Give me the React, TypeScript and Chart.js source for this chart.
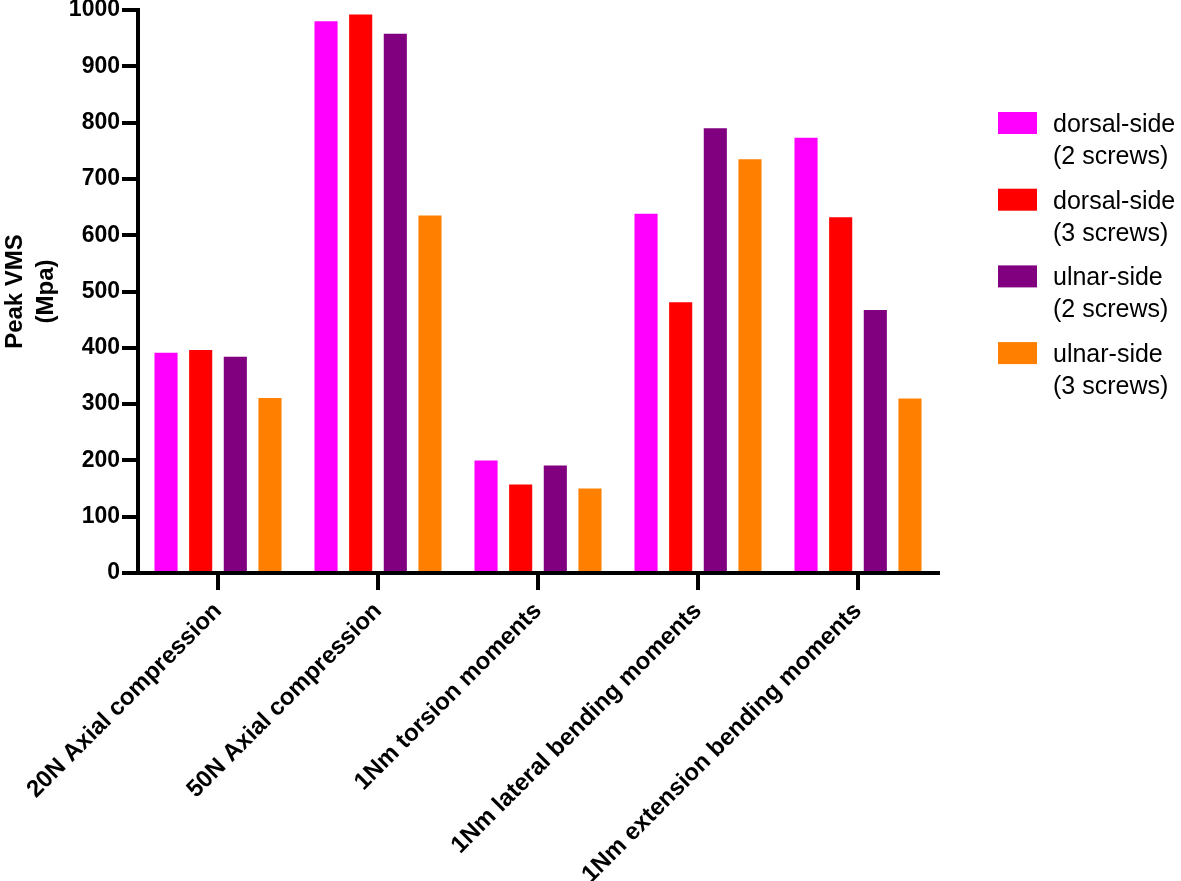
import React, { useEffect, useRef } from 'react';
import { Chart, registerables } from 'chart.js';

Chart.register(...registerables);

const categories = [
  '20N Axial compression',
  '50N Axial compression',
  '1Nm torsion moments',
  '1Nm lateral bending moments',
  '1Nm extension bending moments',
];

const dorsal2 = [391, 980, 200, 638, 773];
const dorsal3 = [396, 992, 157, 481, 632];
const ulnar2 = [384, 958, 191, 790, 467];
const ulnar3 = [311, 635, 150, 735, 310];

const seriesLabels = [
  ['dorsal-side', '(2 screws)'],
  ['dorsal-side', '(3 screws)'],
  ['ulnar-side', '(2 screws)'],
  ['ulnar-side', '(3 screws)'],
];
const seriesColors = ['#FF00FF', '#FF0000', '#800080', '#FF8000'];

const yTitle = ['Peak VMS', '(Mpa)'];
const yMin = 0;
const yMax = 1000;
const yStep = 100;

const FONT = '"Liberation Sans", Arial, Helvetica, sans-serif';

const sideLegend = {
  id: 'sideLegend',
  afterDraw(chart: any) {
    const ctx = chart.ctx;
    const { right, top } = chart.chartArea;
    const x0 = right + 60;
    ctx.save();
    ctx.font = `25px ${FONT}`;
    ctx.textBaseline = 'middle';
    ctx.textAlign = 'left';
    chart.data.datasets.forEach((ds: any, i: number) => {
      const y = top + 102 + i * 76.7;
      ctx.fillStyle = ds.backgroundColor;
      ctx.fillRect(x0, y, 39, 22);
      ctx.fillStyle = '#000';
      const lines = String(ds.label).split('\n');
      lines.forEach((l: string, j: number) => {
        ctx.fillText(l, x0 + 55, y + 13 + j * 32);
      });
    });
    ctx.restore();
  },
};

export default function App() {
  const ref = useRef<HTMLCanvasElement | null>(null);

  useEffect(() => {
    document.body.style.margin = '0';
    const canvas = ref.current;
    if (!canvas) return;
    const series = [dorsal2, dorsal3, ulnar2, ulnar3];
    const chart = new Chart(canvas, {
      type: 'bar',
      data: {
        labels: categories,
        datasets: series.map((d, i) => ({
          label: seriesLabels[i].join('\n'),
          data: d,
          backgroundColor: seriesColors[i],
          borderWidth: 0,
          categoryPercentage: 0.866,
          barPercentage: 0.667,
        })),
      },
      options: {
        responsive: false,
        animation: false,
        devicePixelRatio: 1,
        layout: { padding: { left: 0, right: 243, top: 10, bottom: 0 } },
        plugins: {
          legend: { display: false },
          tooltip: { enabled: false },
        },
        scales: {
          x: {
            offset: true,
            grid: {
              offset: false,
              drawOnChartArea: false,
              drawTicks: true,
              tickLength: 17,
              lineWidth: 4,
              color: '#000',
            },
            border: { display: true, color: '#000', width: 4 },
            ticks: {
              color: '#000',
              font: { family: FONT, size: 24, weight: 'bold' },
              maxRotation: 45,
              minRotation: 45,
              autoSkip: false,
              padding: 7,
            },
            afterFit(scale: any) {
              scale.height = 308;
              scale.paddingLeft = 0;
              scale.paddingRight = 0;
            },
          },
          y: {
            min: yMin,
            max: yMax,
            grid: {
              drawOnChartArea: false,
              drawTicks: true,
              tickLength: 16,
              lineWidth: 4,
              color: '#000',
            },
            border: { display: true, color: '#000', width: 4 },
            ticks: {
              stepSize: yStep,
              color: '#000',
              font: { family: FONT, size: 23, weight: 'bold' },
              padding: 2,
              callback: (v: any) => String(v),
            },
            title: {
              display: true,
              text: yTitle,
              color: '#000',
              font: { family: FONT, size: 24, weight: 'bold', lineHeight: 1.3 },
              padding: 0,
            },
            afterFit(scale: any) {
              scale.width = 138;
              scale.paddingTop = 0;
              scale.paddingBottom = 0;
            },
          },
        },
      },
      plugins: [sideLegend],
    });
    return () => chart.destroy();
  }, []);

  return (
    <div style={{ position: 'absolute', left: 0, top: 0, width: 1181, height: 881, background: '#fff' }}>
      <canvas ref={ref} width={1181} height={881} />
    </div>
  );
}
